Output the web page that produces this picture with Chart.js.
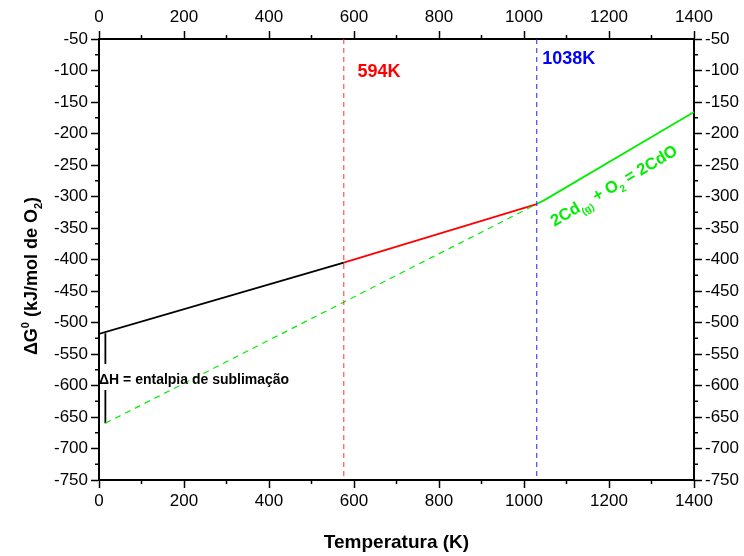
<!DOCTYPE html>
<html><head><meta charset="utf-8">
<script src="https://cdn.jsdelivr.net/npm/chart.js@4.4.1/dist/chart.umd.min.js"></script>
<style>html,body{margin:0;padding:0;background:#fff}#wrap{width:744px;height:556px}</style>
</head><body><div id="wrap"><canvas id="c" width="744" height="556"></canvas></div>
<script>
// ---- data (temperature K, ΔG kJ/mol O2) ----
const blackT = [0, 576];
const blackG = [-518, -405];
const redT = [576, 1030];
const redG = [-405, -312];
const greenT = [1030, 1050, 1400];
const greenG = [-312, -305, -166];
const greenDashT = [15, 1030];
const greenDashG = [-660, -312];
const dHTopT = [15, 15];
const dHTopG = [-517, -566];
const dHBotT = [15, 15];
const dHBotG = [-607, -660];
const vRedT = [576, 576];
const vBlueT = [1030, 1030];
const vG = [-50, -750];
const xTickLabels = [0, 200, 400, 600, 800, 1000, 1200, 1400];
const yTickLabels = [-750, -700, -650, -600, -550, -500, -450, -400, -350, -300, -250, -200, -150, -100, -50];

const pts = (T, G) => T.map((t, i) => ({x: t, y: G[i]}));
const ds = (T, G, color, width, dash) => ({
  data: pts(T, G), borderColor: color, borderWidth: width, borderDash: dash || [],
  pointRadius: 0, showLine: true, fill: false, tension: 0, xAxisID: 'x', yAxisID: 'y'
});

const FONT = '"Liberation Sans", Arial, sans-serif';
const GREEN = '#00ee00';

function axisOpts(pos, min, max, labels) {
  return {
    type: 'linear', position: pos, min: min, max: max,
    afterBuildTicks: s => { s.ticks = labels.map(v => ({value: v})); },
    ticks: {color: '#000', font: {family: FONT, size: 17}, padding: 3, maxRotation: 0, autoSkip: false,
            callback: v => String(v)},
    grid: {drawOnChartArea: false, drawTicks: true, tickLength: 8, tickColor: '#000', tickWidth: 1.5},
    border: {display: true, color: '#000', width: 2}
  };
}

const minorTicks = {
  id: 'minorTicks',
  afterDraw(chart) {
    const c = chart.ctx;
    c.save();
    c.strokeStyle = '#000'; c.lineWidth = 1.5;
    const ca = chart.chartArea;
    const draw = (scale, vals, horiz, edge, dir) => {
      vals.forEach(v => {
        const p = scale.getPixelForValue(v);
        c.beginPath();
        if (horiz) { c.moveTo(p, edge); c.lineTo(p, edge + dir * 4); }
        else { c.moveTo(edge, p); c.lineTo(edge + dir * 4, p); }
        c.stroke();
      });
    };
    const xm = []; for (let i = 0; i < xTickLabels.length - 1; i++) xm.push((xTickLabels[i] + xTickLabels[i + 1]) / 2);
    const ym = []; for (let i = 0; i < yTickLabels.length - 1; i++) ym.push((yTickLabels[i] + yTickLabels[i + 1]) / 2);
    draw(chart.scales.x, xm, true, ca.bottom, 1);
    draw(chart.scales.x2, xm, true, ca.top, -1);
    draw(chart.scales.y, ym, false, ca.left, -1);
    draw(chart.scales.y2, ym, false, ca.right, 1);
    c.restore();
  }
};

function drawRich(c, parts, x, y) {
  let cx = x;
  parts.forEach(([t, size, dy]) => {
    c.font = 'bold ' + size + 'px ' + FONT;
    c.fillText(t, cx, y + dy);
    cx += c.measureText(t).width;
  });
  return cx - x;
}
function richWidth(c, parts) {
  let w = 0;
  parts.forEach(([t, size]) => { c.font = 'bold ' + size + 'px ' + FONT; w += c.measureText(t).width; });
  return w;
}

const labels = {
  id: 'labels',
  afterDraw(chart) {
    const c = chart.ctx, xs = chart.scales.x, ys = chart.scales.y;
    c.save();
    c.textBaseline = 'alphabetic';
    c.textAlign = 'left';
    c.fillStyle = '#ff0000'; c.font = 'bold 18px ' + FONT;
    c.fillText('594K', xs.getPixelForValue(608), ys.getPixelForValue(-110));
    c.fillStyle = '#0000ff';
    c.fillText('1038K', xs.getPixelForValue(1043), ys.getPixelForValue(-90));
    c.fillStyle = '#000'; c.font = 'bold 14px ' + FONT;
    c.fillText('ΔH = entalpia de sublimação', xs.getPixelForValue(0), ys.getPixelForValue(-590) + 5);
    // green reaction label, parallel to line
    const ax = xs.getPixelForValue(1050), ay = ys.getPixelForValue(-305);
    const bx = xs.getPixelForValue(1400), by = ys.getPixelForValue(-166);
    const ang = Math.atan2(by - ay, bx - ax);
    c.save();
    c.translate(xs.getPixelForValue(1072), ys.getPixelForValue(-348));
    c.rotate(ang);
    c.fillStyle = GREEN;
    drawRich(c, [['2Cd', 16.5, 0], ['(g)', 10, 5], [' + O', 16.5, 0], ['2', 10, 5], [' = 2CdO', 16.5, 0]], 0, 0);
    c.restore();
    // y-axis title
    c.save();
    c.fillStyle = '#000';
    c.translate(37, 276);
    c.rotate(-Math.PI / 2);
    const parts = [['ΔG', 18, 0], ['0', 11, -8], [' (kJ/mol de O', 18, 0], ['2', 11, 5], [')', 18, 0]];
    const w = richWidth(c, parts);
    drawRich(c, parts, -w / 2, 0);
    c.restore();
    // x-axis title
    c.fillStyle = '#000'; c.font = 'bold 19px ' + FONT; c.textAlign = 'center';
    c.fillText('Temperatura (K)', (chart.chartArea.left + chart.chartArea.right) / 2, 548);
    c.restore();
  }
};

const xA = axisOpts('bottom', 0, 1400, xTickLabels);
xA.afterFit = s => { s.height = 76; };
const x2A = axisOpts('top', 0, 1400, xTickLabels);
x2A.afterFit = s => { s.height = 39; };
const yA = axisOpts('left', -750, -50, yTickLabels);
yA.afterFit = s => { s.width = 99; };
const y2A = axisOpts('right', -750, -50, yTickLabels);
y2A.afterFit = s => { s.width = 50; };

new Chart(document.getElementById('c'), {
  type: 'scatter',
  data: {
    datasets: [
      ds(vRedT, vG, '#ff3333', 1, [5, 4]),
      ds(vBlueT, vG, '#2222ff', 1, [5, 4]),
      ds(greenDashT, greenDashG, GREEN, 1.2, [6, 5]),
      ds(blackT, blackG, '#000', 1.8),
      ds(redT, redG, '#ff0000', 1.8),
      ds(greenT, greenG, GREEN, 1.8),
      ds(dHTopT, dHTopG, '#000', 1.8),
      ds(dHBotT, dHBotG, '#000', 1.8)
    ]
  },
  options: {
    responsive: false, animation: false, devicePixelRatio: 1,
    layout: {padding: 0},
    plugins: {legend: {display: false}, tooltip: {enabled: false}},
    scales: {x: xA, x2: x2A, y: yA, y2: y2A}
  },
  plugins: [minorTicks, labels]
});
</script></body></html>
